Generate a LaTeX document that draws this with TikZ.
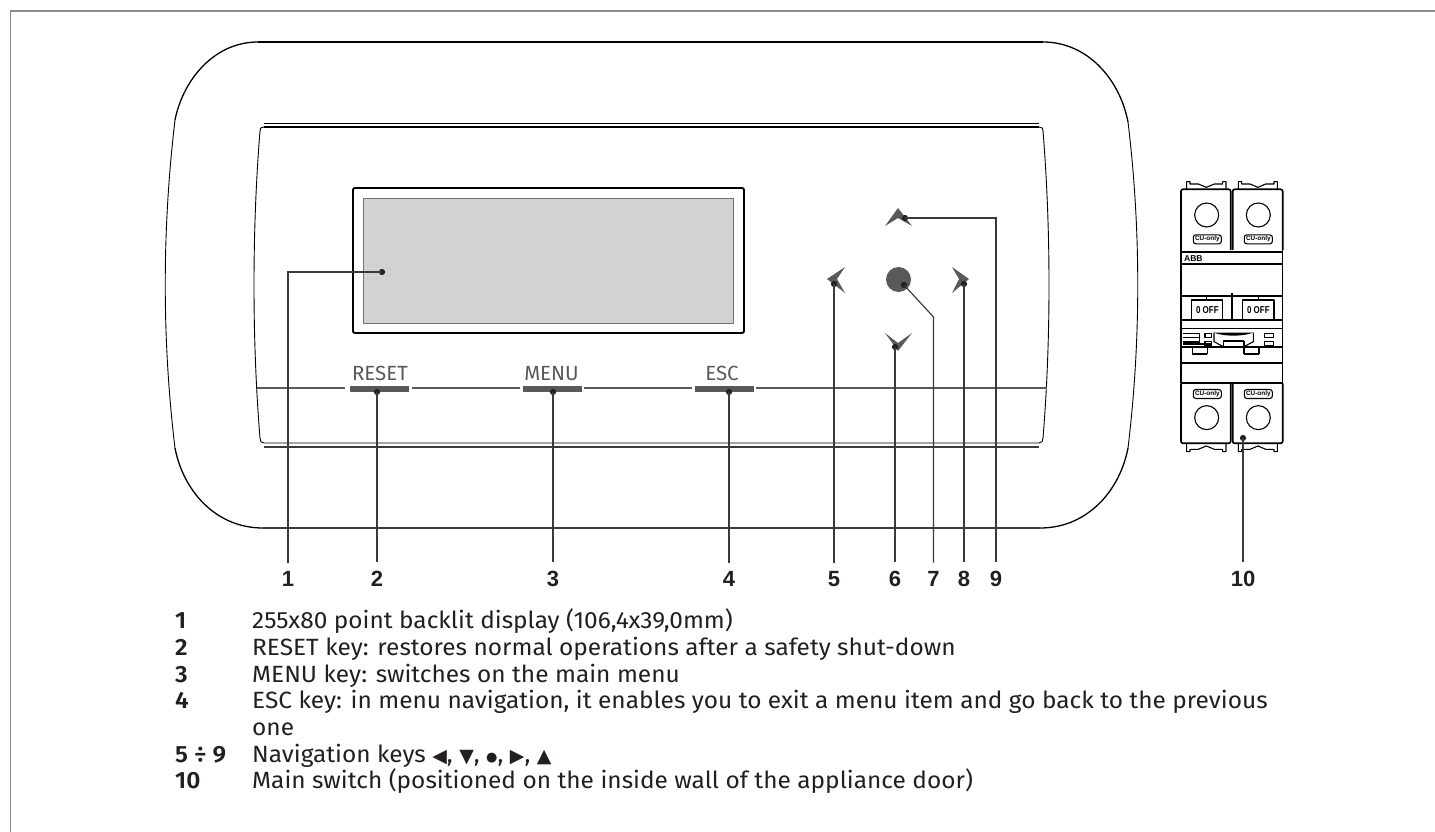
\documentclass[tikz,border=0pt]{standalone}
\usepackage{graphicx}
\usepackage{fontspec}
\setmainfont{Fira Sans}[BoldFont={Fira Sans SemiBold},FakeStretch=1.04]
\newfontfamily\numfont{Liberation Sans}
\newfontfamily\symfont{DejaVu Sans}
\newfontfamily\keyfont{Fira Sans}
\newfontfamily\tinyfont{Liberation Sans}
\definecolor{dk}{HTML}{58595B}
\definecolor{ln}{HTML}{3A3A3C}
\definecolor{tx}{HTML}{231F20}
\newcommand{\navsym}[1]{{\symfont\fontsize{19}{20}\selectfont #1}}
\tikzset{
 conn/.style={draw=ln,line width=1.15pt,line join=miter},
 dotn/.style={fill=tx,draw=none,circle,minimum size=6.2pt,inner sep=0pt},
 callout/.style={font=\numfont\bfseries\fontsize{22}{24}\selectfont,text=tx,anchor=base,inner sep=8pt},
 legnum/.style={font=\bfseries\fontsize{23.5}{27}\selectfont,text=tx,anchor=base west,inner sep=0pt},
 legtxt/.style={font=\fontsize{23.5}{27}\selectfont,text=tx,anchor=base west,inner sep=0pt},
 keybar/.style={fill=dk,draw=none},
 keylab/.style={font=\keyfont\fontsize{20.5}{22}\selectfont,text=dk,anchor=base,inner sep=0pt},
 brk/.style={draw=black,line width=1.1pt,line join=round},
 brkh/.style={draw=black,line width=1.7pt,line join=round},
 pill/.style={draw=black,line width=1.1pt,rounded corners=2.5pt,minimum width=28pt,minimum height=9pt,inner sep=0pt,font=\tinyfont\bfseries\fontsize{6.4}{7}\selectfont},
 offtxt/.style={font=\tinyfont\bfseries\fontsize{10}{11}\selectfont,inner sep=0pt},
}
\begin{document}
\begin{tikzpicture}[x=1pt,y=-1pt]
\useasboundingbox (0,0) rectangle (1435,832);
% page frame
\draw[draw=gray!90,line width=1.6pt] (10.5,832) -- (10.5,11) -- (1435,11);
% outer housing
\draw[black,line width=1.9pt] (258,42) -- (1043,42);
\draw[black,line width=1.3pt] (258,42) .. controls (214,42) and (183,80) .. (175,120);
\draw[black,line width=1.3pt] (1043,42) .. controls (1088,42) and (1120,80) .. (1128,122);
\draw[black,line width=.9pt] (175,120) .. controls (162,230) and (162,340) .. (175,448);
\draw[black,line width=.9pt] (1128,122) .. controls (1141,230) and (1141,340) .. (1128,448);
\draw[black,line width=1.3pt] (175,448) .. controls (183,490) and (215,528) .. (263,528);
\draw[black,line width=1.3pt] (1128,448) .. controls (1120,490) and (1088,528) .. (1040,528);
\draw[ln,line width=1.3pt] (263,528) -- (1040,528);
% inner panel
\draw[black,line width=.8pt] (264,123) -- (1039,123);
\draw[black,line width=1.4pt] (264,127) -- (1039,127);
\draw[black,line width=.9pt] (264,127) .. controls (261,127) and (260,128) .. (260,131) .. controls (252,230) and (252,340) .. (260,438) .. controls (260,441) and (261,443) .. (264,443) -- (1039,443) .. controls (1042,443) and (1043,441) .. (1043,438) .. controls (1051,340) and (1051,230) .. (1043,131) .. controls (1043,128) and (1042,127) .. (1039,127);
\draw[ln,line width=1.1pt] (264,447) -- (1039,447);
% mid line and keys
\draw[dk,line width=1.2pt] (257,388) -- (345,388) (412,388) -- (520,388) (584,388) -- (692,388) (756,388) -- (1047,388);
\fill[keybar] (350,386) rectangle (409,392);
\fill[keybar] (523,386) rectangle (582,392);
\fill[keybar] (695,386) rectangle (754,392);
\node[keylab] (kreset) at (380,380) {RESET};
\node[keylab] (kmenu) at (551.5,380) {MENU};
\node[keylab] (kesc) at (722,380) {ESC};
% display
\draw[black,line width=1.9pt,rounded corners=2pt,fill=white] (353,188) rectangle (744,333);
\draw[draw=gray!90!black,line width=1pt,fill={rgb,255:red,209;green,210;blue,212}] (363,198) rectangle (733,323);
% navigation keys
\fill[dk] (898,208) -- (912,226) -- (898,218) -- (885,226) -- cycle;
\fill[dk] (827,279) -- (845,267) -- (837,279) -- (845,293) -- cycle;
\fill[dk] (969,279) -- (952,267) -- (959,279) -- (952,293) -- cycle;
\fill[dk] (898,351) -- (885,333) -- (898,343) -- (912,333) -- cycle;
\fill[dk] (898.5,279.5) circle (12.5);
% circuit breaker
\begin{scope}[shift={(1140,170)},x=.3333pt,y=-.3333pt]
 % clips
 \foreach \xa/\xb in {140/258,295/412}{
  \draw[brk] (\xa,58) -- (\xa,35) -- ({\xa+10},35) -- ({\xa+10},42) -- ({\xa+35},42) -- ({\xa+59},52) -- ({\xb-35},42) -- ({\xb-10},42) -- ({\xb-10},35) -- (\xb,35) -- (\xb,58);
  \draw[brk] (\xa,820) -- (\xa,845) -- ({\xa+10},845) -- ({\xa+10},838) -- ({\xa+35},838) -- ({\xa+59},828) -- ({\xb-35},838) -- ({\xb-10},838) -- ({\xb-10},845) -- (\xb,845) -- (\xb,820);
 }
 % covers
 \draw[brkh,rounded corners=2pt] (123,240) -- (123,58) -- (272,58) -- (272,240);
 \draw[brkh,rounded corners=2pt] (278,240) -- (278,58) -- (428,58) -- (428,240);
 \draw[brkh,rounded corners=2pt] (123,640) -- (123,820) -- (272,820) -- (272,640);
 \draw[brkh,rounded corners=2pt] (278,640) -- (278,820) -- (428,820) -- (428,640);
 \foreach \cx/\cy in {200/135,355/135,200/743,355/743}{\draw[brk] (\cx,\cy) circle (36);}
 \node[pill] (pa) at (202,208) {CU-only};
 \node[pill] (pb) at (355,208) {CU-only};
 \node[pill] (pc) at (202,672) {CU-only};
 \node[pill] (pd) at (355,672) {CU-only};
 % body
 \draw[brk] (123,240) -- (123,640) (428,240) -- (428,640);
 \draw[brkh] (123,245) -- (428,245);
 \draw[line width=1.8pt] (123,281) -- (428,281);
 \node[font=\tinyfont\bfseries\fontsize{8.5}{9}\selectfont,inner sep=0pt] (abb) at (160,266) {ABB};
 \draw[line width=1.8pt] (123,378) -- (428,378);
 \draw[brk] (123,450) -- (428,450);
 \draw[brk] (123,475) -- (428,475);
 \draw[line width=1.8pt] (123,530) -- (428,530);
 \draw[line width=1.8pt] (123,578) -- (428,578);
 \draw[line width=1.8pt] (123,638) -- (428,638);
 \draw[line width=2pt] (275,370) -- (275,450);
 \draw[brk] (155,450) -- (155,390) -- (248,390) -- (248,450);
 \draw[brk] (308,450) -- (308,390) -- (402,390) -- (402,450);
 \draw[brk] (200,378) -- (200,390) (355,378) -- (355,390);
 \node[offtxt] (offa) at (202,421) {\scalebox{.8}[1]{0 OFF}};
 \node[offtxt] (offb) at (355,421) {\scalebox{.8}[1]{0 OFF}};
 % mechanism
 \draw[line width=1.5pt] (128,490) -- (178,490) (128,503) -- (178,503) (128,516) -- (178,516);
 \draw[brk] (178,490) -- (178,522) (128,522) -- (215,522);
 \draw[brk] (195,490) rectangle (215,503) (195,515) rectangle (215,528);
 \draw[brk] (373,490) rectangle (400,503) (373,515) rectangle (400,528);
 \fill[black] (222,488) .. controls (250,500) and (310,500) .. (340,488) -- cycle;
 \draw[brk] (222,488) -- (222,515) -- (250,530) -- (312,530) -- (340,515) -- (340,488);
 \draw[brk] (250,513) -- (312,513) (250,513) -- (250,530) (312,513) -- (312,530);
 \draw[brk] (157,530) -- (157,552) (202,530) -- (202,552) (157,552) -- (202,552);
 \draw[brk] (312,530) -- (312,552) (357,530) -- (357,552) (312,552) -- (357,552);
\end{scope}
% call-out anchors
\node[dotn] (d1) at (382,272) {};
\node[dotn] (d2) at (377,392) {};
\node[dotn] (d3) at (553,392) {};
\node[dotn] (d4) at (729,392) {};
\node[dotn] (d5) at (834,284) {};
\node[dotn] (d6) at (895,347) {};
\node[dotn] (d7) at (904,285) {};
\node[dotn] (d8) at (964,284) {};
\node[dotn] (d9) at (905,218) {};
\node[dotn] (d10) at (1243,438) {};
\coordinate (k7) at (933.5,317);
% call-out numbers
\node[callout] (n1) at (288,586) {1};
\node[callout] (n2) at (377,586) {2};
\node[callout] (n3) at (553,586) {3};
\node[callout] (n4) at (729,586) {4};
\node[callout] (n5) at (834,586) {5};
\node[callout] (n6) at (895,586) {6};
\node[callout] (n7) at (933.5,586) {7};
\node[callout] (n8) at (964,586) {8};
\node[callout] (n9) at (996,586) {9};
\node[callout] (n10) at (1243,586) {10};
% connectors
\draw[conn] (d1.center) -| (n1.north);
\draw[conn] (d2.center) -- (n2.north);
\draw[conn] (d3.center) -- (n3.north);
\draw[conn] (d4.center) -- (n4.north);
\draw[conn] (d5.center) -- (n5.north);
\draw[conn] (d6.center) -- (n6.north);
\draw[conn] (d7.center) -- (k7) -- (n7.north);
\draw[conn] (d8.center) -- (n8.north);
\draw[conn] (d9.center) -| (n9.north);
\draw[conn] (d10.center) -- (n10.north);
% legend
\node[legnum] (l1) at (175,628) {1};
\node[legnum] (l2) at (175,655) {2};
\node[legnum] (l3) at (175,682) {3};
\node[legnum] (l4) at (175,708) {4};
\node[legnum] (l5) at (175,762) {5 ÷ 9};
\node[legnum] (l6) at (175,788) {10};
\node[legtxt] (t1) at (252,628) {255x80 point backlit display (106,4x39,0mm)};
\node[legtxt] (t2) at (252,655) {RESET key: restores normal operations after a safety shut-down};
\node[legtxt] (t3) at (252,682) {MENU key: switches on the main menu};
\node[legtxt] (t4) at (252,708) {ESC key: in menu navigation, it enables you to exit a menu item and go back to the previous};
\node[legtxt] (t4b) at (252,735) {one};
\node[legtxt] (t5) at (252,762) {Navigation keys \navsym{◀}, \navsym{▼}, {\symfont\fontsize{13}{14}\selectfont\raisebox{1pt}{●}}, \navsym{▶}, \navsym{▲}};
\node[legtxt] (t6) at (252,788) {Main switch (positioned on the inside wall of the appliance door)};
\end{tikzpicture}
\end{document}
